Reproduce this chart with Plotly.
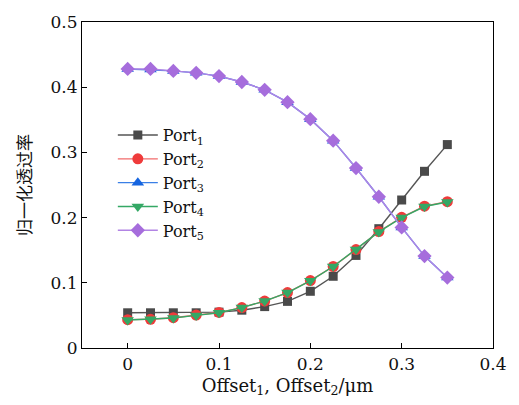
import plotly.graph_objects as go

# Offset values (μm)
offset = [0, 0.025, 0.05, 0.075, 0.1, 0.125, 0.15, 0.175, 0.2, 0.225, 0.25, 0.275, 0.3, 0.325, 0.35]

# Normalised transmission at each port
port1 = [0.054, 0.054, 0.054, 0.054, 0.055, 0.058, 0.0635, 0.0715, 0.087, 0.110, 0.142, 0.183, 0.227, 0.271, 0.312]
port2 = [0.0435, 0.044, 0.0465, 0.0505, 0.0545, 0.062, 0.072, 0.085, 0.1035, 0.125, 0.151, 0.1785, 0.2005, 0.2175, 0.2245]
port3 = [0.428, 0.427, 0.425, 0.422, 0.417, 0.408, 0.396, 0.377, 0.351, 0.318, 0.276, 0.232, 0.185, 0.141, 0.108]
port4 = [0.043, 0.044, 0.046, 0.050, 0.054, 0.062, 0.072, 0.085, 0.103, 0.125, 0.151, 0.178, 0.200, 0.217, 0.224]
port5 = [0.428, 0.428, 0.425, 0.422, 0.417, 0.408, 0.396, 0.377, 0.351, 0.318, 0.276, 0.232, 0.185, 0.141, 0.108]

series = [
    ("Port<sub>1</sub>", port1, "#4a4a4a", "#555555", "square", 9),
    ("Port<sub>2</sub>", port2, "#ef3b3b", "#f26b6b", "circle", 11),
    ("Port<sub>3</sub>", port3, "#1565e0", "#3a7fe6", "triangle-up", 11),
    ("Port<sub>4</sub>", port4, "#34a865", "#34a865", "triangle-down", 11),
    ("Port<sub>5</sub>", port5, "#a66ddc", "#b284e4", "diamond", 11),
]

fig = go.Figure()
for name, ys, mcol, lcol, sym, size in series:
    fig.add_trace(go.Scatter(
        x=offset, y=ys, name=name, mode="lines+markers",
        line=dict(color=lcol, width=1.4),
        marker=dict(symbol=sym, size=size, color=mcol, line=dict(width=0)),
    ))

serif = "DejaVu Serif, Liberation Serif, serif"
fig.update_layout(
    width=519, height=405,
    margin=dict(l=82, r=22, t=15, b=57),
    paper_bgcolor="white", plot_bgcolor="white",
    font=dict(family=serif, size=17, color="#111111"),
    showlegend=True,
    legend=dict(
        x=0.075, y=0.705, xanchor="left", yanchor="top",
        bgcolor="rgba(0,0,0,0)", font=dict(family=serif, size=16, color="#111111"),
        tracegroupgap=0, itemwidth=40,
    ),
    xaxis=dict(
        range=[-0.05, 0.4], tickvals=[0, 0.1, 0.2, 0.3, 0.4],
        ticktext=["0", "0.1", "0.2", "0.3", "0.4"],
        ticks="inside", ticklen=5, tickwidth=1, tickcolor="black",
        showline=True, linecolor="black", linewidth=1.2, mirror=True,
        showgrid=False, zeroline=False,
        title=dict(text="Offset<sub>1</sub>, Offset<sub>2</sub>/μm", font=dict(family=serif, size=18), standoff=6),
    ),
    yaxis=dict(
        range=[0, 0.5], tickvals=[0, 0.1, 0.2, 0.3, 0.4, 0.5],
        ticktext=["0", "0.1", "0.2", "0.3", "0.4", "0.5"],
        ticks="inside", ticklen=5, tickwidth=1, tickcolor="black",
        showline=True, linecolor="black", linewidth=1.2, mirror=True,
        showgrid=False, zeroline=False,
        title=dict(text="归一化透过率", font=dict(family="Noto Sans CJK SC", size=17), standoff=14),
    ),
)

fig.write_html("out.html")
